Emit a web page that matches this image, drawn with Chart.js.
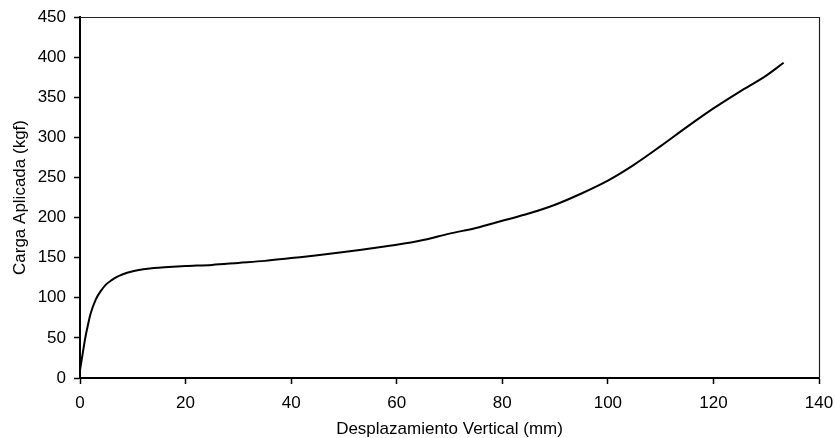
<!DOCTYPE html>
<html>
<head>
<meta charset="utf-8">
<script src="https://cdn.jsdelivr.net/npm/chart.js@4.4.1/dist/chart.umd.min.js"></script>
<style>
  html, body { margin: 0; padding: 0; background: #fff; }
  #wrap { width: 835px; height: 438px; position: relative; }
</style>
</head>
<body>
<div id="wrap"><canvas id="c" width="835" height="438"></canvas></div>
<script>
// Desplazamiento vertical (mm)
const dispX = [0, 0.5, 1, 1.5, 2, 3, 4, 5, 6, 7, 8, 10, 12, 14, 16, 20, 25, 30, 35, 40, 45, 50, 55, 60, 65, 70, 75, 80, 85, 90, 95, 100, 105, 110, 115, 120, 125, 130, 133.3];
// Carga aplicada (kgf)
const loadY = [10, 30, 50, 66, 80, 98, 109, 117, 122, 126, 129, 133, 135.5, 137, 138, 139.5, 141, 143.5, 146, 149.5, 153, 157, 161.5, 166, 172, 180, 187, 196, 205, 216, 230, 246, 266, 289, 313, 336, 357, 377, 393];

const xTicks = [0, 20, 40, 60, 80, 100, 120, 140];
const yTicks = [0, 50, 100, 150, 200, 250, 300, 350, 400, 450];

const points = dispX.map((x, i) => ({ x: x, y: loadY[i] }));
const FONT = "'Liberation Sans', Arial, sans-serif";

const framePlugin = {
  id: 'frame',
  afterDatasetsDraw(chart) {
    const { ctx, chartArea: a } = chart;
    ctx.save();
    ctx.strokeStyle = '#222';
    ctx.lineWidth = 1.2;
    ctx.beginPath();
    ctx.moveTo(a.left, a.top + 0.5);
    ctx.lineTo(a.right + 0.5, a.top + 0.5);
    ctx.lineTo(a.right + 0.5, a.bottom);
    ctx.stroke();
    ctx.restore();
  }
};

new Chart(document.getElementById('c'), {
  type: 'scatter',
  data: {
    datasets: [{
      data: points,
      showLine: true,
      borderColor: '#000',
      borderWidth: 2,
      pointRadius: 0,
      cubicInterpolationMode: 'monotone',
      fill: false
    }]
  },
  options: {
    responsive: false,
    animation: false,
    layout: { padding: { left: 0, right: 16, top: 17, bottom: 0 } },
    plugins: { legend: { display: false }, tooltip: { enabled: false } },
    scales: {
      x: {
        type: 'linear',
        min: 0, max: 140,
        afterBuildTicks(scale) { scale.ticks = xTicks.map(v => ({ value: v })); },
        afterFit(scale) { scale.height = 60; scale.paddingLeft = 0; scale.paddingRight = 0; },
        border: { display: true, color: '#000', width: 2 },
        grid: { drawOnChartArea: false, drawTicks: true, tickLength: 6, tickWidth: 1.5, tickColor: '#000' },
        ticks: { color: '#000', padding: 9, font: { family: FONT, size: 17 }, maxRotation: 0 },
        title: { display: true, text: 'Desplazamiento Vertical (mm)', color: '#000',
                 font: { family: FONT, size: 17, lineHeight: 1.0 }, padding: { top: 0, bottom: 0 } }
      },
      y: {
        type: 'linear',
        min: 0, max: 450,
        afterBuildTicks(scale) { scale.ticks = yTicks.map(v => ({ value: v })); },
        afterFit(scale) { scale.width = 80; scale.paddingTop = 0; scale.paddingBottom = 0; },
        border: { display: true, color: '#000', width: 2 },
        grid: { drawOnChartArea: false, drawTicks: true, tickLength: 6, tickWidth: 1.5, tickColor: '#000' },
        ticks: { color: '#000', padding: 8, font: { family: FONT, size: 17 } },
        title: { display: true, text: 'Carga Aplicada (kgf)', color: '#000',
                 font: { family: FONT, size: 17 }, padding: { top: 10, bottom: 0 } }
      }
    }
  },
  plugins: [framePlugin]
});
</script>
</body>
</html>
